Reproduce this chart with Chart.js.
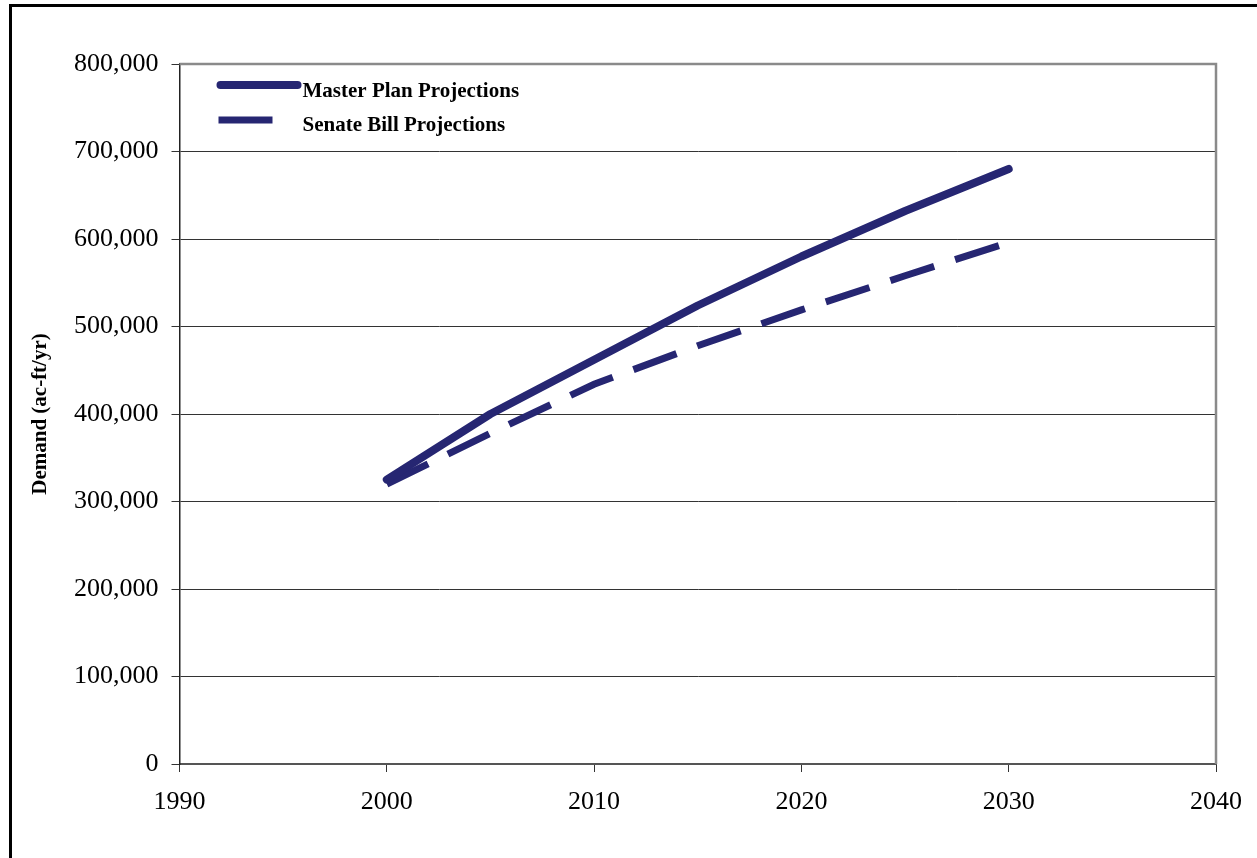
<!DOCTYPE html>
<html>
<head>
<meta charset="utf-8">
<script src="https://cdn.jsdelivr.net/npm/chart.js@4/dist/chart.umd.min.js"></script>
<style>
  html, body { margin: 0; padding: 0; background: #fff; overflow: hidden; }
  #wrap { position: relative; width: 1257px; height: 858px; overflow: hidden; }
  #c { position: absolute; left: 0; top: 0; }
  #frame { position: absolute; left: 9px; top: 4px; width: 1300px; height: 900px;
           border-left: 3px solid #000; border-top: 3px solid #000; pointer-events: none; }
</style>
</head>
<body>
<div id="wrap">
  <canvas id="c" width="1257" height="858"></canvas>
  <div id="frame"></div>
</div>
<script>
// Water demand projections, acre-feet per year
const years       = [2000, 2005, 2010, 2015, 2020, 2025, 2030];
const masterPlan  = [325000, 400000, 462000, 524000, 580000, 632000, 680000];
const senateBill  = [320000, 378000, 434000, 478000, 519000, 558000, 596000];
const seriesNames = ['Master Plan Projections', 'Senate Bill Projections'];
const xTickValues = [1990, 2000, 2010, 2020, 2030, 2040];
const yTickValues = [0, 100000, 200000, 300000, 400000, 500000, 600000, 700000, 800000];

const NAVY = '#262672';
const SERIF = '"Liberation Serif", "Times New Roman", serif';

const toPoints = vals => years.map((y, i) => ({ x: y, y: vals[i] }));

// Gray frame on the top and right of the plot area
const plotFrame = {
  id: 'plotFrame',
  afterDraw(chart) {
    const { ctx, chartArea: a } = chart;
    ctx.save();
    ctx.strokeStyle = '#8a8a8a';
    ctx.lineWidth = 2.5;
    ctx.beginPath();
    ctx.moveTo(a.left, a.top);
    ctx.lineTo(a.right, a.top);
    ctx.lineTo(a.right, a.bottom);
    ctx.stroke();
    ctx.restore();
  }
};

// Legend drawn inside the plot area, using each dataset's own stroke style
const innerLegend = {
  id: 'innerLegend',
  afterDraw(chart) {
    const { ctx, chartArea: a } = chart;
    const rows = [
      { x0: a.left + 41, x1: a.left + 118, y: a.top + 21, base: a.top + 33 },
      { x0: a.left + 39, x1: a.left + 93,  y: a.top + 56, base: a.top + 67 }
    ];
    ctx.save();
    chart.data.datasets.forEach((ds, i) => {
      const r = rows[i];
      ctx.strokeStyle = ds.borderColor;
      ctx.lineWidth = ds.borderWidth;
      ctx.lineCap = ds.borderCapStyle || 'butt';
      ctx.setLineDash([]);
      ctx.beginPath();
      ctx.moveTo(r.x0, r.y);
      ctx.lineTo(r.x1, r.y);
      ctx.stroke();
      ctx.fillStyle = '#000';
      ctx.font = 'bold 21px ' + SERIF;
      ctx.textBaseline = 'alphabetic';
      ctx.textAlign = 'left';
      ctx.fillText(ds.label, a.left + 123, r.base);
    });
    ctx.restore();
  }
};

new Chart(document.getElementById('c'), {
  type: 'line',
  data: {
    datasets: [
      {
        label: seriesNames[0],
        data: toPoints(masterPlan),
        borderColor: NAVY,
        borderWidth: 8,
        borderCapStyle: 'round',
        borderJoinStyle: 'round',
        pointRadius: 0,
        tension: 0,
        fill: false
      },
      {
        label: seriesNames[1],
        data: toPoints(senateBill),
        borderColor: NAVY,
        borderWidth: 7,
        borderDash: [46, 22],
        borderCapStyle: 'butt',
        pointRadius: 0,
        tension: 0,
        fill: false
      }
    ]
  },
  options: {
    responsive: false,
    animation: false,
    devicePixelRatio: 1,
    layout: { padding: { top: 64, right: 39, bottom: 0, left: 0 } },
    plugins: { legend: { display: false }, tooltip: { enabled: false } },
    scales: {
      x: {
        type: 'linear',
        min: xTickValues[0],
        max: xTickValues[xTickValues.length - 1],
        afterBuildTicks: s => { s.ticks = xTickValues.map(v => ({ value: v })); },
        ticks: {
          callback: v => String(v),
          color: '#000',
          font: { family: SERIF, size: 26 },
          padding: 15,
          maxRotation: 0
        },
        grid: { drawOnChartArea: false, drawTicks: true, tickLength: 8, color: '#333', lineWidth: 1 },
        border: { display: true, color: '#555', width: 2 },
        afterFit: s => { s.height = 94; }
      },
      y: {
        type: 'linear',
        min: yTickValues[0],
        max: yTickValues[yTickValues.length - 1],
        afterBuildTicks: s => { s.ticks = yTickValues.map(v => ({ value: v })); },
        ticks: {
          callback: v => v.toLocaleString('en-US'),
          color: '#000',
          font: { family: SERIF, size: 26 },
          padding: 13
        },
        grid: { drawTicks: true, tickLength: 8, color: '#333', lineWidth: 1 },
        border: { display: true, color: '#222', width: 1.5 },
        title: {
          display: true,
          text: 'Demand (ac-ft/yr)',
          color: '#000',
          font: { family: SERIF, size: 21, weight: 'bold' },
          padding: { top: 28, bottom: 0 }
        },
        afterFit: s => { s.width = 179.5; }
      }
    }
  },
  plugins: [plotFrame, innerLegend]
});
</script>
</body>
</html>
